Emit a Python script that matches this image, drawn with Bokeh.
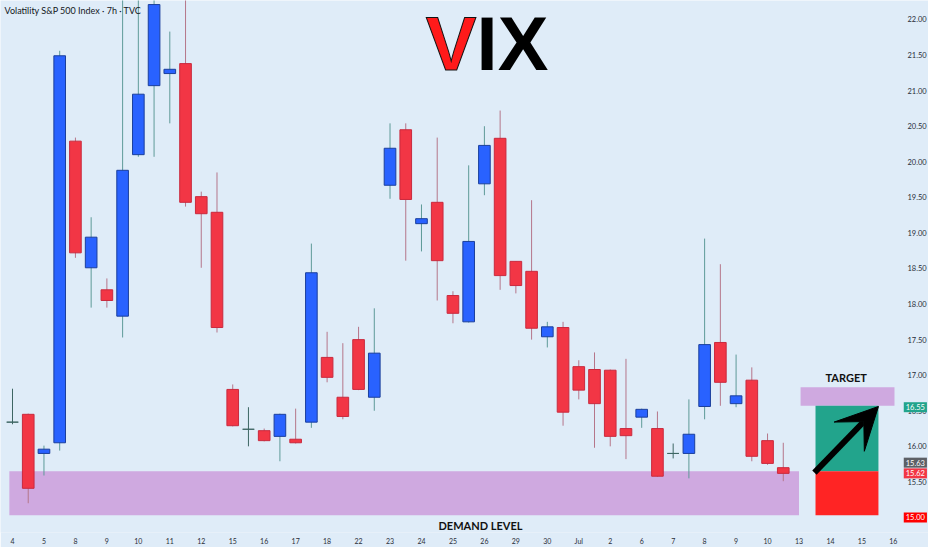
from bokeh.plotting import figure
from bokeh.models import (Range1d, FixedTicker, NumeralTickFormatter, Label, Arrow,
                          VeeHead, BoxAnnotation, ColumnDataSource)
from bokeh.embed import file_html
from bokeh.resources import INLINE

# ---------------- data ----------------
day_labels = ["4", "5", "8", "9", "10", "11", "12", "15", "16", "17", "18", "22", "23", "24",
              "25", "26", "29", "30", "Jul", "2", "6", "7", "8", "9", "10", "13", "14", "15", "16"]

opens = [16.34, 16.45, 15.90, 16.05, 20.29, 18.51, 18.20, 17.83, 20.10, 21.07,
         21.24, 21.38, 19.51, 19.29, 16.80, 16.24, 16.22, 16.14, 16.10, 16.34,
         17.25, 16.69, 17.50, 16.69, 19.67, 20.45, 19.13, 19.43, 18.12, 17.75,
         19.69, 20.33, 18.60, 18.46, 17.54, 17.67, 17.12, 17.08, 17.07, 16.25,
         16.41, 16.25, 15.90, 15.90, 16.56, 17.46, 16.60, 16.93, 16.08, 15.70]
highs = [16.81, 16.46, 16.01, 21.56, 20.34, 19.22, 18.36, 22.45, 22.50, 22.60,
         21.83, 22.40, 19.58, 19.85, 16.87, 16.55, 16.25, 16.46, 16.53, 18.85,
         17.61, 17.45, 17.68, 17.94, 20.54, 20.54, 19.40, 20.34, 18.18, 19.95,
         20.50, 20.72, 18.60, 19.46, 17.75, 17.75, 17.21, 17.32, 17.08, 17.23,
         16.53, 16.49, 16.04, 16.66, 18.92, 18.56, 17.29, 17.11, 16.18, 16.05]
lows = [16.31, 15.20, 15.59, 15.94, 18.65, 17.95, 17.95, 17.53, 20.07, 20.07,
        20.54, 19.37, 18.51, 17.60, 16.28, 16.00, 16.07, 15.79, 16.04, 16.26,
        16.90, 16.38, 16.79, 16.50, 19.48, 18.61, 18.74, 18.05, 17.73, 17.74,
        19.53, 18.20, 18.15, 17.50, 17.39, 16.29, 16.66, 15.98, 16.00, 15.82,
        16.26, 15.57, 15.83, 15.55, 16.38, 16.57, 16.55, 15.79, 15.74, 15.51]
closes = [16.34, 15.41, 15.96, 21.49, 18.72, 18.94, 18.05, 19.88, 20.95, 22.21,
          21.30, 19.43, 19.27, 17.67, 16.29, 16.24, 16.08, 16.45, 16.05, 18.44,
          16.97, 16.42, 16.80, 17.31, 20.19, 19.47, 19.20, 18.61, 17.87, 18.88,
          20.23, 18.40, 18.26, 17.66, 17.68, 16.48, 16.79, 16.60, 16.14, 16.15,
          16.52, 15.58, 15.90, 16.17, 17.43, 16.90, 16.71, 15.86, 15.76, 15.62]

price_ticks = [15.0, 15.5, 16.0, 16.5, 17.0, 17.5, 18.0, 18.5, 19.0, 19.5, 20.0, 20.5, 21.0, 21.5, 22.0]

# price tags shown on the price scale
tag_values = [16.55, 15.63, 15.62, 15.00]

# annotation levels (prices)
demand_bottom, demand_top = 15.03, 15.65
target_bottom, target_top = 16.57, 16.83
entry_level = 15.65
stop_level = 15.03
arrow_from = (50.98, 15.63)
arrow_to = (55.05, 16.56)

# ---------------- styling ----------------
BG = "#DFECF8"
UP_FILL, UP_LINE, UP_WICK = "#2962FF", "#1B3F9C", "#5E9A98"
DN_FILL, DN_LINE, DN_WICK = "#F23645", "#C92A3E", "#B5768A"
DOJI = "#3E6663"
LAVENDER = "#CFA9E0"
GREEN = "#22A48C"
RED = "#FF2424"
FONT = "Lato"

X0 = -0.763
X1 = X0 + 928 / 15.73
Y1 = 22.267
Y0 = Y1 - 532 / 71.14
AXIS_X = 57.98      # where the price scale is drawn

p = figure(frame_width=928, frame_height=532, x_range=Range1d(X0, X1), y_range=Range1d(Y0, Y1),
           output_backend="svg", toolbar_location=None, y_axis_location="right",
           min_border=0, background_fill_color=BG, border_fill_color=BG, outline_line_color=None)
p.grid.visible = False

for ax in (p.xaxis[0], p.yaxis[0]):
    ax.axis_line_color = None
    ax.major_tick_line_color = None
    ax.minor_tick_line_color = None
    ax.major_tick_out = 0
    ax.major_tick_in = 0
    ax.minor_tick_out = 0
    ax.minor_tick_in = 0
    ax.major_label_text_font = FONT
    ax.major_label_text_color = "#2A2E39"

p.xaxis.major_label_text_font_size = "7px"
p.xaxis.ticker = FixedTicker(ticks=[2 * i for i in range(len(day_labels))])
p.xaxis.major_label_overrides = {2 * i: t for i, t in enumerate(day_labels)}
p.xaxis.major_label_standoff = 4

p.yaxis.major_label_text_font_size = "7.5px"
p.yaxis.ticker = FixedTicker(ticks=price_ticks)
p.yaxis.formatter = NumeralTickFormatter(format="0.00")
p.yaxis.fixed_location = AXIS_X
p.yaxis.major_label_standoff = -17

# zones (behind candles)
p.add_layout(BoxAnnotation(left=-0.2, right=50.0, bottom=demand_bottom, top=demand_top,
                           fill_color=LAVENDER, fill_alpha=1, line_alpha=0, level="underlay"))
p.add_layout(BoxAnnotation(left=50.1, right=56.07, bottom=target_bottom, top=target_top,
                           fill_color=LAVENDER, fill_alpha=1, line_alpha=0, level="underlay"))
p.add_layout(BoxAnnotation(left=51.05, right=55.05, bottom=entry_level, top=target_bottom,
                           fill_color=GREEN, fill_alpha=1, line_alpha=0, level="underlay"))
p.add_layout(BoxAnnotation(left=51.05, right=55.05, bottom=stop_level, top=entry_level,
                           fill_color=RED, fill_alpha=1, line_alpha=0, level="underlay"))

# candles
n = len(opens)
fill, line, wick = [], [], []
for o, c in zip(opens, closes):
    if c > o:
        fill.append(UP_FILL); line.append(UP_LINE); wick.append(UP_WICK)
    elif c < o:
        fill.append(DN_FILL); line.append(DN_LINE); wick.append(DN_WICK)
    else:
        fill.append(DOJI); line.append(DOJI); wick.append(DOJI)

src = ColumnDataSource(dict(
    x=list(range(n)), high=highs, low=lows,
    top=[max(o, c) for o, c in zip(opens, closes)],
    bottom=[min(o, c) for o, c in zip(opens, closes)],
    fill=fill, line=line, wick=wick))
p.segment(x0="x", y0="low", x1="x", y1="high", line_color="wick", line_width=1, source=src)
p.vbar(x="x", width=0.74, top="top", bottom="bottom", fill_color="fill", line_color="line",
       line_width=1, source=src)

# arrow
p.add_layout(Arrow(end=VeeHead(size=42, fill_color="black", line_color="black", line_width=1),
                   x_start=arrow_from[0], y_start=arrow_from[1], x_end=arrow_to[0], y_end=arrow_to[1],
                   line_width=6, line_color="black"))

# texts
p.add_layout(Label(x=X0, y=22.126, x_offset=4, text="Volatility S&P 500 Index · 7h · TVC",
                   text_font=FONT, text_font_size="9px", text_color="#131722",
                   text_baseline="middle", text_align="left"))
p.add_layout(Label(x=29.5, y=21.663, text="V", text_font="Liberation Sans", text_font_style="bold",
                   text_font_size="76px", text_color="#FF1A1A", text_outline_color="#111111",
                   text_align="right", text_baseline="middle"))
p.add_layout(Label(x=29.5, y=21.663, text="IX", text_font="Liberation Sans", text_font_style="bold",
                   text_font_size="76px", text_color="#000000",
                   text_align="left", text_baseline="middle"))
p.add_layout(Label(x=29.75, y=14.887, text="DEMAND LEVEL", text_font=FONT, text_font_style="bold",
                   text_font_size="11px", text_color="#111111", text_align="center",
                   text_baseline="middle"))
p.add_layout(Label(x=53.0, y=16.97, text="TARGET", text_font=FONT, text_font_style="bold",
                   text_font_size="11px", text_color="#111111", text_align="center",
                   text_baseline="middle"))

tag_colors = [GREEN, "#5D6066", "#F23645", "#FF0000"]
tag_shift = [0, 10, 0, 0]
for v, col, sh in zip(tag_values, tag_colors, tag_shift):
    p.add_layout(Label(x=56.66, y=v, y_offset=sh, text=f"{v:.2f}", text_font=FONT,
                       text_font_size="7.5px", text_color="white", background_fill_color=col,
                       text_baseline="middle", text_align="left", padding=2))

open("out.html", "w").write(file_html(p, INLINE))
